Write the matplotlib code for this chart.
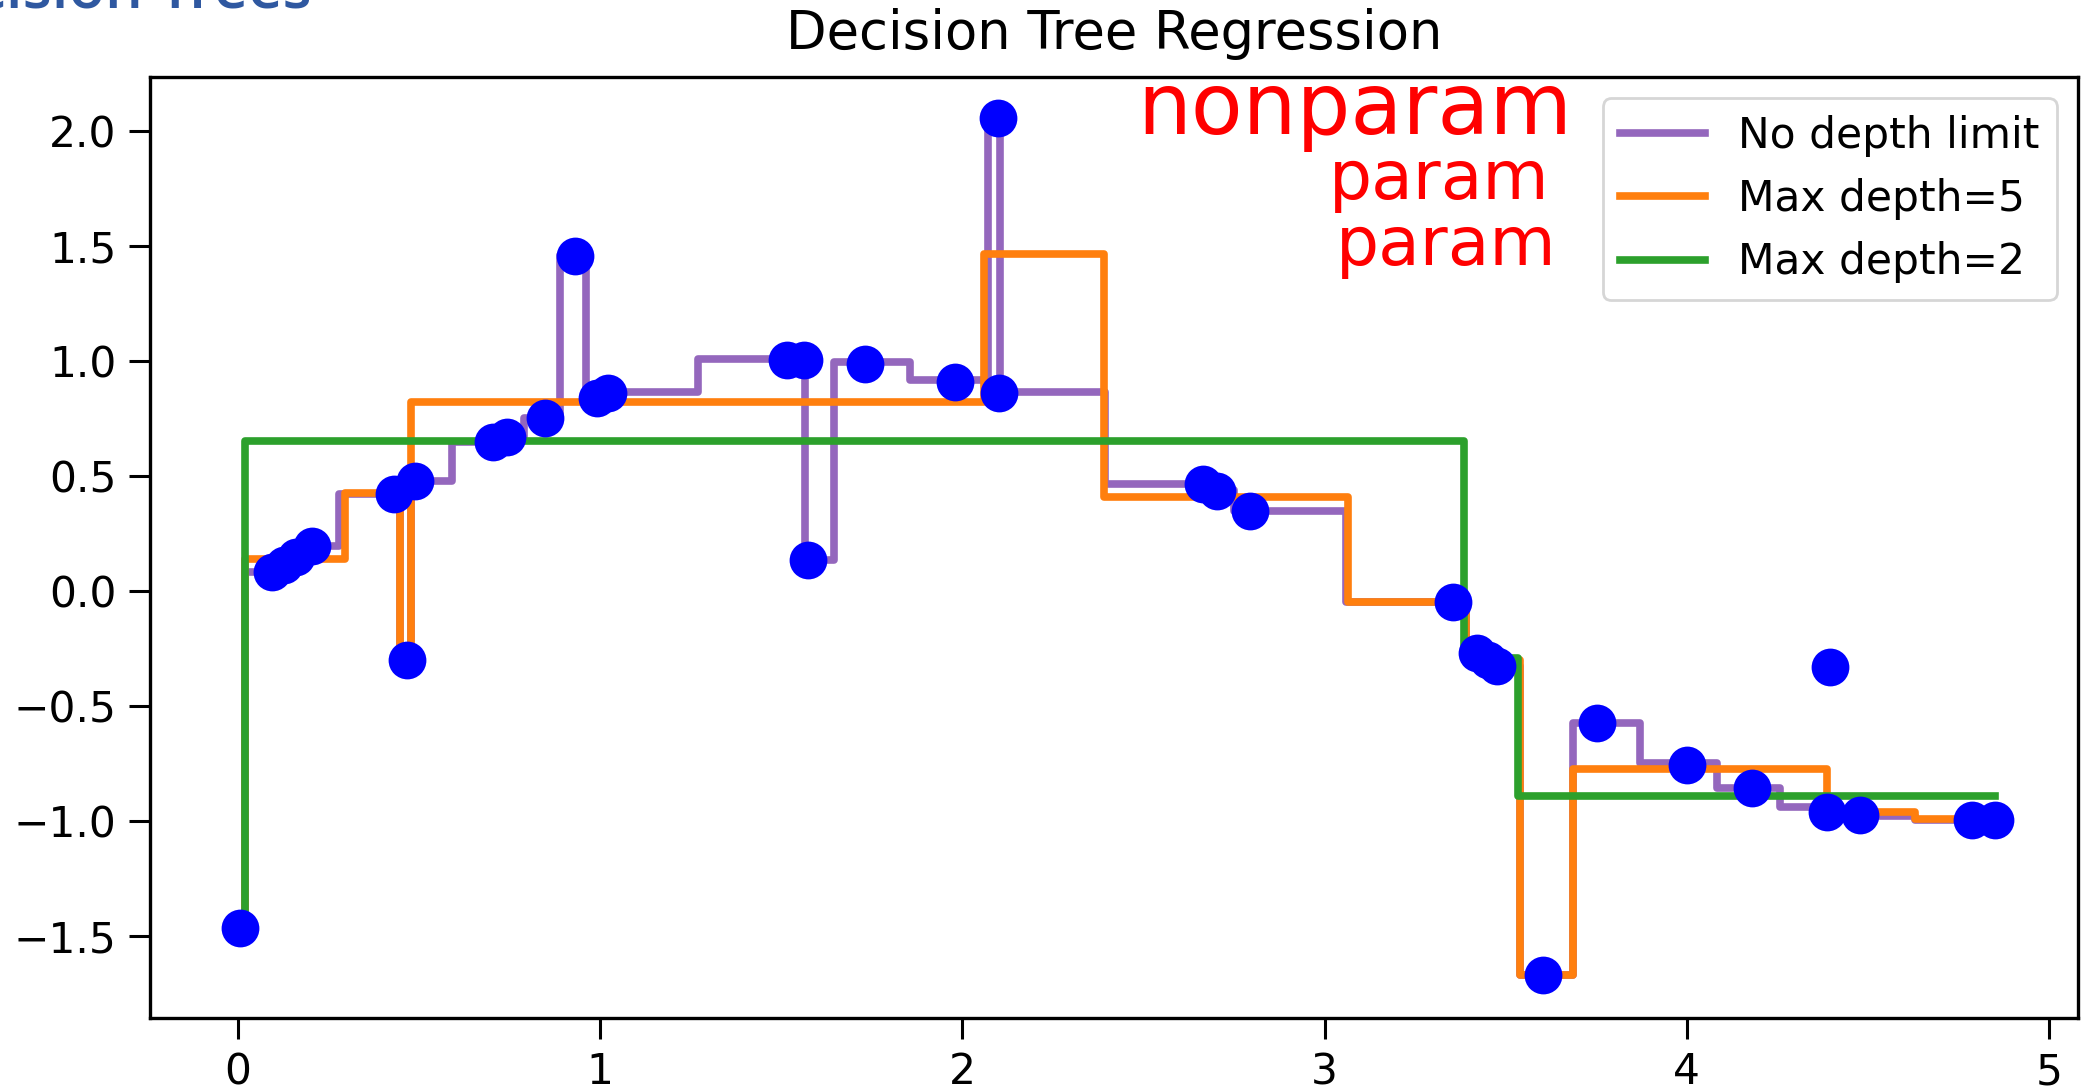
import numpy as np
import matplotlib
matplotlib.use('Agg')
import matplotlib.pyplot as plt

# training points
pts_x = [0.005, 0.094, 0.127, 0.16, 0.205, 0.43, 0.466, 0.49, 0.705, 0.742,
         0.848, 0.93, 0.99, 1.022, 1.515, 1.562, 1.575, 1.732, 1.98, 2.099,
         2.1, 2.665, 2.702, 2.794, 3.355, 3.42, 3.45, 3.475, 3.604, 3.751,
         4.0, 4.179, 4.386, 4.395, 4.478, 4.786, 4.85]
pts_y = [-1.462, 0.086, 0.115, 0.15, 0.195, 0.422, -0.298, 0.48, 0.648, 0.672,
         0.755, 1.458, 0.842, 0.864, 1.005, 1.005, 0.137, 0.988, 0.91, 2.057,
         0.861, 0.466, 0.437, 0.35, -0.045, -0.27, -0.30, -0.325, -1.668, -0.573,
         -0.755, -0.856, -0.958, -0.33, -0.972, -0.994, -0.994]

# tree predictions: split edges and leaf values
nd_edges = [0.0, 0.02, 0.11, 0.145, 0.18, 0.28, 0.448, 0.478, 0.59, 0.72,
            0.79, 0.89, 0.96, 1.005, 1.27, 1.565, 1.645, 1.855, 2.07, 2.105,
            2.395, 2.68, 2.75, 3.06, 3.39, 3.435, 3.46, 3.54, 3.686, 3.871,
            4.083, 4.257, 4.39, 4.43, 4.63, 4.85]
nd_levels = [-1.46, 0.086, 0.115, 0.15, 0.195, 0.422, -0.298, 0.48, 0.648, 0.672,
             0.755, 1.46, 0.842, 0.865, 1.01, 0.137, 0.995, 0.92, 2.057, 0.865,
             0.466, 0.44, 0.35, -0.045, -0.27, -0.30, -0.325, -1.668, -0.573, -0.745,
             -0.856, -0.936, -0.965, -0.975, -0.994]

d5_edges = [0.0, 0.02, 0.295, 0.448, 0.478, 2.06, 2.39, 3.065, 3.39, 3.54,
            3.686, 4.386, 4.63, 4.85]
d5_levels = [-1.46, 0.14, 0.427, -0.3, 0.825, 1.466, 0.41, -0.046, -0.3, -1.668,
             -0.772, -0.958, -0.99]

d2_edges = [0.0, 0.02, 3.385, 3.535, 4.85]
d2_levels = [-1.46, 0.654, -0.29, -0.89]

xticks = [0, 1, 2, 3, 4, 5]
yticks = [-1.5, -1.0, -0.5, 0.0, 0.5, 1.0, 1.5, 2.0]

W, H = 2084, 1090
fig = plt.figure(figsize=(W / 100, H / 100), dpi=100)
ax = fig.add_axes([150 / W, 1 - 1018 / H, (2078 - 150) / W, (1018 - 77) / H])

ax.scatter(pts_x, pts_y, s=740, c='blue', linewidths=0, zorder=3)
ax.step(nd_edges, nd_levels + nd_levels[-1:], where='post', color='tab:purple', lw=5.5, label='No depth limit')
ax.step(d5_edges, d5_levels + d5_levels[-1:], where='post', color='tab:orange', lw=5.5, label='Max depth=5')
ax.step(d2_edges, d2_levels + d2_levels[-1:], where='post', color='tab:green', lw=5.5, label='Max depth=2')

ax.set_xlim(-0.243, 5.08)
ax.set_ylim(-1.855, 2.236)
ax.set_xticks(xticks)
ax.set_yticks(yticks)
ax.tick_params(labelsize=30.5, length=15, width=2.2, pad=9)
for sp in ax.spines.values():
    sp.set_linewidth(2.4)

ax.set_title('Decision Tree Regression', fontsize=38, pad=20)
leg = ax.legend(loc='upper right', fontsize=30.5)
leg.get_frame().set_linewidth(2)

# handwritten notes and cut-off slide heading
fig.text(1137 / W, 1 - 134 / H, 'nonparam', color='red', fontsize=61, va='baseline')
fig.text(1329 / W, 1 - 199 / H, 'param', color='red', fontsize=49, va='baseline')
fig.text(1336 / W, 1 - 265 / H, 'param', color='red', fontsize=49, va='baseline')
fig.text(312 / W, 1 - 7 / H, 'Decision Trees', color='#2F58A0', fontsize=43,
         family='Open Sans', weight='semibold', ha='right', va='baseline')

fig.savefig('out.png', dpi=100)
